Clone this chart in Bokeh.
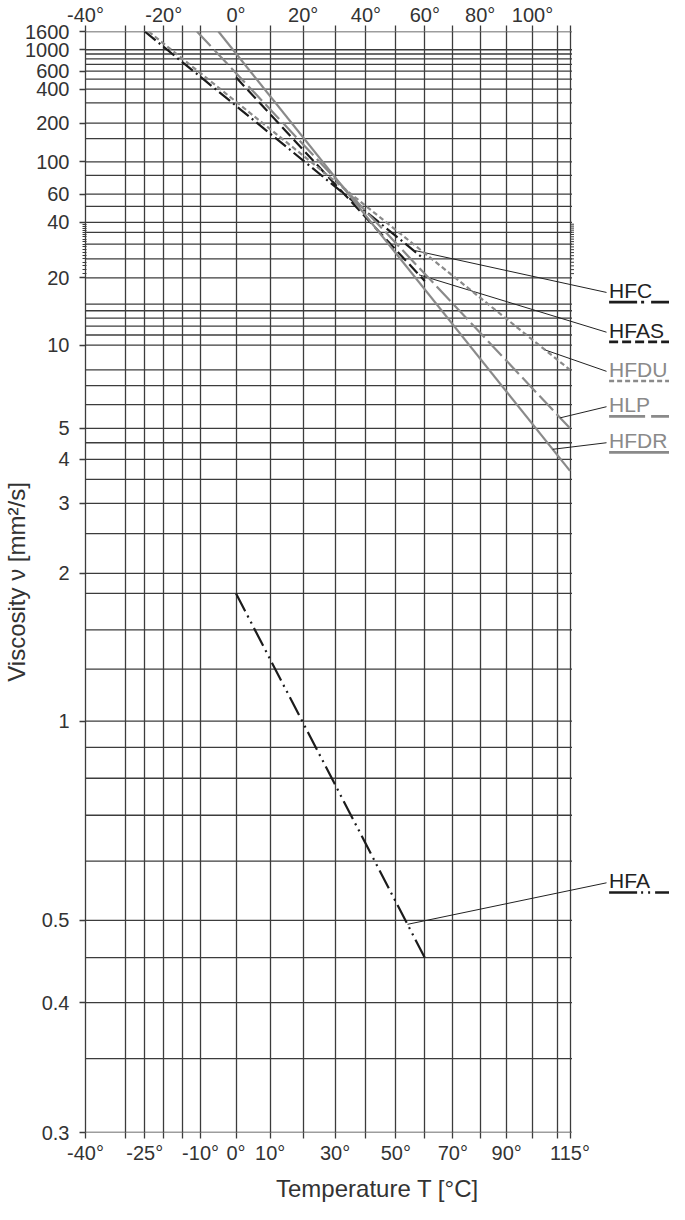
import math
from bokeh.plotting import figure
from bokeh.models import Range1d, FixedTicker, LinearAxis
from bokeh.core.properties import value
from bokeh.embed import file_html
from bokeh.resources import INLINE

# ---------------- data ----------------
fluids = ["HFC", "HFAS", "HFDU", "HLP", "HFDR", "HFA"]
t_start = [-25, 0, -24, -11, -5, 0]          # °C
v_start = [1600, 520, 1600, 1600, 1600, 1.8]  # mm²/s
t_end = [60, 60, 115, 115, 115, 60]           # °C
v_end = [24.8, 19.3, 8.0, 5.0, 3.7, 0.45]     # mm²/s

temp_grid = [-40, -30, -25, -20, -15, -10, 0, 10, 20, 30, 40, 50, 60, 70, 80, 90, 100, 110, 115]
temp_labels_bottom = [-40, -25, -10, 0, 10, 30, 50, 70, 90, 115]
temp_labels_top = [-40, -20, 0, 20, 40, 60, 80, 100]

visc_grid = [0.3, 0.35, 0.4, 0.45, 0.5, 0.6, 0.7, 0.8, 0.9, 1, 1.25, 1.5, 1.8, 2, 2.5, 3, 3.5,
             4, 4.5, 5, 6, 7, 8, 10, 11, 12, 13, 14, 15, 20, 25, 30, 35, 40, 50, 60, 80, 100,
             150, 200, 300, 400, 500, 600, 700, 800, 900, 1000, 1600]
visc_labels = [0.3, 0.4, 0.5, 1, 2, 3, 4, 5, 10, 20, 40, 60, 100, 200, 400, 600, 1000, 1600]
visc_minor = list(range(21, 40))

# ---------------- annotation layout ----------------
leader_t = [56, 58, 105, 111, 108, 54]        # where the leader touches the curve (°C)
label_at = [17, 11.3, 7.9, 5.9, 4.5, 0.56]    # height of each label (as viscosity level)
LEADER_END_T = 130.2
LABEL_T = 131.3

# ---------------- styles ----------------
BLACK = "#1c1c1c"
GRAY = "#8a8a8a"
line_color = [BLACK, BLACK, GRAY, GRAY, GRAY, BLACK]
label_color = ["#222222", "#222222", "#8a8a8a", "#8a8a8a", "#8a8a8a", "#222222"]
line_dash = ["14 4 2 4", "12 5", "5 3", "20 5", "solid", "20 5 2 5 2 5"]
under_dash = ["28 4 3 7", "9 4", "5 3", "36 6", "solid", "28 4 2 5 2 5"]
FONT = "Liberation Sans"
TXT = "#333333"
GRID = "#3c3c3c"


def xf(t):
    # temperature axis: logarithm of absolute temperature
    return math.log(t + 273.15)


def yf(v):
    # viscosity axis: Ubbelohde-Walther double logarithm
    return math.log10(math.log10(v + 0.85))


W, H = 669, 1204
FL, FT, FB = 82, 29, 68
FW = W - FL
FH = H - FT - FB
X0 = xf(min(temp_grid))
XE = xf(max(temp_grid))
SX = 487.0 / (XE - X0)
X1 = X0 + FW / SX
Y0 = yf(min(visc_grid))
Y1 = yf(max(visc_grid))
SY = FH / (Y1 - Y0)

p = figure(width=W, height=H, x_range=Range1d(X0, X1), y_range=Range1d(Y0, Y1),
           output_backend="svg", toolbar_location=None,
           min_border_left=FL, min_border_right=0, min_border_top=FT, min_border_bottom=FB,
           background_fill_color="white", border_fill_color="white", outline_line_color=None)

xticks = [xf(t) for t in temp_grid]


def style_x_axis(ax, labelled):
    ax.ticker = FixedTicker(ticks=xticks)
    ax.major_label_overrides = {xf(t): (f"{t}°" if t in labelled else "") for t in temp_grid}
    ax.axis_line_color = None
    ax.major_tick_out = 6
    ax.major_tick_in = 0
    ax.major_tick_line_color = GRID
    ax.major_tick_line_width = 1.3
    ax.minor_tick_line_color = None
    ax.major_label_text_font = FONT
    ax.major_label_text_font_size = "20px"
    ax.major_label_text_color = TXT


xb = p.xaxis[0]
style_x_axis(xb, temp_labels_bottom)
xb.major_label_standoff = 3
xb.axis_label = "Temperature T [°C]"
xb.axis_label_text_font = FONT
xb.axis_label_text_font_size = "24px"
xb.axis_label_text_font_style = "normal"
xb.axis_label_text_color = TXT
xb.axis_label_standoff = 8

xt = LinearAxis()
style_x_axis(xt, temp_labels_top)
xt.major_label_standoff = 0
p.add_layout(xt, "above")

yl = p.yaxis[0]
yl.ticker = FixedTicker(ticks=[yf(v) for v in visc_labels], minor_ticks=[yf(v) for v in visc_minor])
yl.major_label_overrides = {yf(v): f"{v:g}" for v in visc_labels}
yl.axis_line_color = GRID
yl.axis_line_width = 1.3
yl.major_tick_out = 6
yl.major_tick_in = 0
yl.major_tick_line_color = GRID
yl.major_tick_line_width = 1.3
yl.minor_tick_out = 3
yl.minor_tick_in = 1
yl.minor_tick_line_color = GRID
yl.major_label_standoff = 10
yl.major_label_text_font = FONT
yl.major_label_text_font_size = "20px"
yl.major_label_text_color = TXT
yl.axis_label = "Viscosity ν [mm²/s]"
yl.axis_label_text_font = FONT
yl.axis_label_text_font_size = "24px"
yl.axis_label_text_font_style = "normal"
yl.axis_label_text_color = TXT
yl.axis_label_standoff = -8

p.xgrid.ticker = FixedTicker(ticks=xticks)
p.xgrid.grid_line_color = GRID
p.xgrid.grid_line_width = 1.3
p.ygrid.visible = False

# horizontal grid lines, stopping just past 115 °C
hy = [yf(v) for v in visc_grid]
p.segment(x0=[X0] * len(hy), y0=hy, x1=[XE + 2 / SX] * len(hy), y1=hy,
          line_color=GRID, line_width=1.3)
# small ticks on the right edge
my = [yf(v) for v in visc_minor]
p.segment(x0=[XE] * len(my), y0=my, x1=[XE + 4 / SX] * len(my), y1=my,
          line_color=GRID, line_width=1)

# fluid curves
for i, name in enumerate(fluids):
    xs = [xf(t_start[i]), xf(t_end[i])]
    ys = [yf(v_start[i]), yf(v_end[i])]
    p.line(xs, ys, line_color=line_color[i], line_width=2.2, line_dash=line_dash[i])

    # leader from the curve to the label
    lx = xf(leader_t[i])
    frac = (lx - xs[0]) / (xs[1] - xs[0])
    ly = ys[0] + frac * (ys[1] - ys[0])
    p.line([lx, xf(LEADER_END_T)], [ly, yf(label_at[i])], line_color="#222222", line_width=1)

    # label and line-style sample underneath
    p.text(x=[xf(LABEL_T)], y=[yf(label_at[i]) + 2 / SY], text=[name],
           text_font=value(FONT), text_font_size="21px", text_color=label_color[i],
           text_baseline="middle", text_align="left")
    uy = yf(label_at[i]) - 9.7 / SY
    p.line([xf(LABEL_T), X1], [uy, uy], line_color=line_color[i], line_width=2.6,
           line_dash=under_dash[i])

open("out.html", "w").write(file_html(p, INLINE))
